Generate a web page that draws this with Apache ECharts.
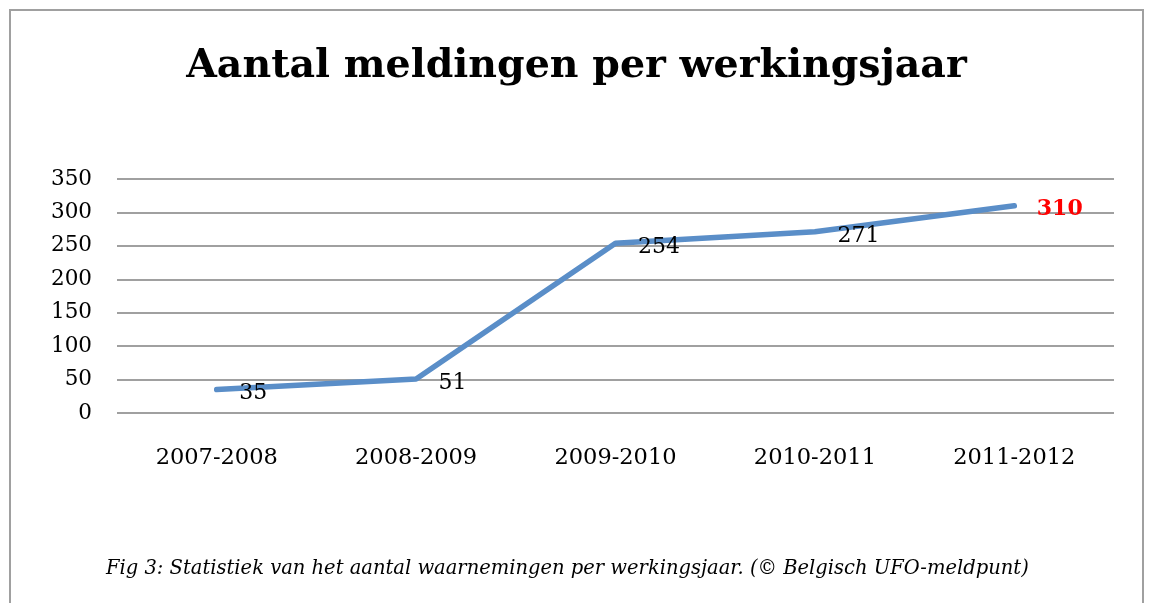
<!DOCTYPE html>
<html>
<head>
<meta charset="utf-8">
<script src="https://cdn.jsdelivr.net/npm/echarts@6/dist/echarts.min.js"></script>
<style>
  html, body { margin: 0; padding: 0; background: #fff; }
  #chart { width: 1153px; height: 603px; }
</style>
</head>
<body>
<div id="chart"></div>
<script>
  // data
  var years = ['2007-2008', '2008-2009', '2009-2010', '2010-2011', '2011-2012'];
  var meldingen = [35, 51, 254, 271, 310];
  var titleText = 'Aantal meldingen per werkingsjaar';
  var captionText = 'Fig 3: Statistiek van het aantal waarnemingen per werkingsjaar. (\u00A9 Belgisch UFO-meldpunt)';

  var serif = '"DejaVu Serif", "Liberation Serif", serif';

  var chart = echarts.init(document.getElementById('chart'));

  var points = meldingen.map(function (v, i) {
    var last = i === meldingen.length - 1;
    return {
      value: v,
      label: last ? { color: '#ff0000', fontWeight: 'bold' } : {}
    };
  });

  var option = {
    animation: false,
    backgroundColor: '#fff',
    title: {
      text: titleText,
      left: 'center',
      top: 42,
      textStyle: {
        fontFamily: serif,
        fontWeight: 'bold',
        fontSize: 39.5,
        color: '#000'
      }
    },
    graphic: [
      {
        type: 'rect',
        shape: { x: 10, y: 10, width: 1133, height: 620 },
        style: { fill: 'none', stroke: '#a0a0a0', lineWidth: 2 },
        silent: true
      },
      {
        type: 'text',
        left: 106,
        top: 559,
        style: {
          text: captionText,
          fontFamily: serif,
          fontStyle: 'italic',
          fontSize: 19.5,
          fill: '#000'
        }
      }
    ],
    grid: {
      left: 117,
      right: 39,
      top: 179,
      bottom: 190
    },
    xAxis: {
      type: 'category',
      data: years,
      boundaryGap: true,
      axisLine: { show: false },
      axisTick: { show: false },
      axisLabel: {
        margin: 34,
        fontFamily: serif,
        fontSize: 22.5,
        color: '#000'
      }
    },
    yAxis: {
      type: 'value',
      min: 0,
      max: 350,
      interval: 50,
      axisLine: { show: false },
      axisTick: { show: false },
      axisLabel: {
        margin: 25,
        fontFamily: serif,
        fontSize: 21.5,
        color: '#000'
      },
      splitLine: { lineStyle: { color: '#a0a0a0', width: 2 } }
    },
    series: [{
      type: 'line',
      data: points,
      symbol: 'circle',
      symbolSize: 1,
      showSymbol: true,
      itemStyle: { color: 'rgba(0,0,0,0)' },
      lineStyle: { color: '#5a8ec8', width: 5.5, cap: 'round' },
      label: {
        show: true,
        position: 'right',
        distance: 22,
        offset: [0, 4],
        fontFamily: serif,
        fontSize: 22,
        color: '#000'
      }
    }]
  };

  chart.setOption(option);
</script>
</body>
</html>
